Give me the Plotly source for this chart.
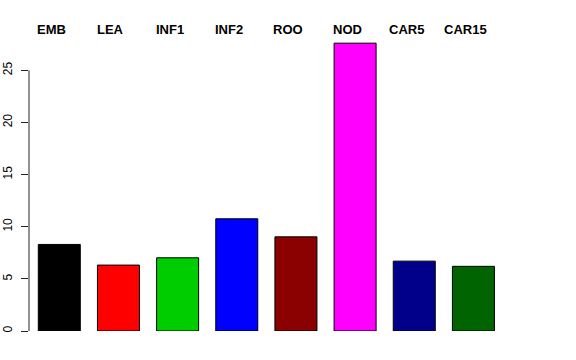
import plotly.graph_objects as go

categories = ["EMB", "LEA", "INF1", "INF2", "ROO", "NOD", "CAR5", "CAR15"]
values = [8.3, 6.32, 7.02, 10.76, 9.03, 27.6, 6.7, 6.2]
colors = ["#000000", "#FF0000", "#00CD00", "#0000FF", "#8B0000", "#FF00FF", "#00008B", "#006400"]
y_ticks = [0, 5, 10, 15, 20, 25]

x_pos = list(range(len(categories)))

fig = go.Figure()
fig.add_trace(go.Bar(
    x=x_pos, y=values,
    marker=dict(color=colors, line=dict(color="black", width=1)),
    showlegend=False, hoverinfo="skip",
))

for xi, lab in zip(x_pos, categories):
    fig.add_annotation(
        x=xi, xref="x", y=1, yref="paper", text="<b>%s</b>" % lab,
        showarrow=False, xshift=-8, yshift=10, yanchor="middle",
        font=dict(family="Liberation Sans, Arial, sans-serif", size=13, color="black"),
    )

# y-axis line spanning only the tick range (R style)
fig.add_shape(type="line", xref="paper", yref="y", x0=0, x1=0,
              y0=y_ticks[0], y1=y_ticks[-1], line=dict(color="#222222", width=1))

fig.update_layout(
    template="none",
    width=576, height=360,
    margin=dict(l=29, r=73, t=39, b=29, autoexpand=False),
    plot_bgcolor="white", paper_bgcolor="white",
    bargap=0.29,
    font=dict(family="Liberation Sans, Arial, sans-serif", size=12, color="black"),
    xaxis=dict(range=[-0.512, 7.5], showticklabels=False, showline=False,
               showgrid=False, zeroline=False, ticks="", automargin=False),
    yaxis=dict(range=[0, 28], tickvals=y_ticks, ticktext=[str(v) for v in y_ticks],
               tickangle=-90, ticks="outside", ticklen=7, tickcolor="#222222",
               showline=False, showgrid=False, zeroline=False, automargin=False,
               ticklabelstandoff=4, tickfont=dict(size=12)),
)

fig.write_html("out.html", config={"displayModeBar": False},
               post_script="document.body.style.margin='0';document.body.style.overflow='hidden';")
